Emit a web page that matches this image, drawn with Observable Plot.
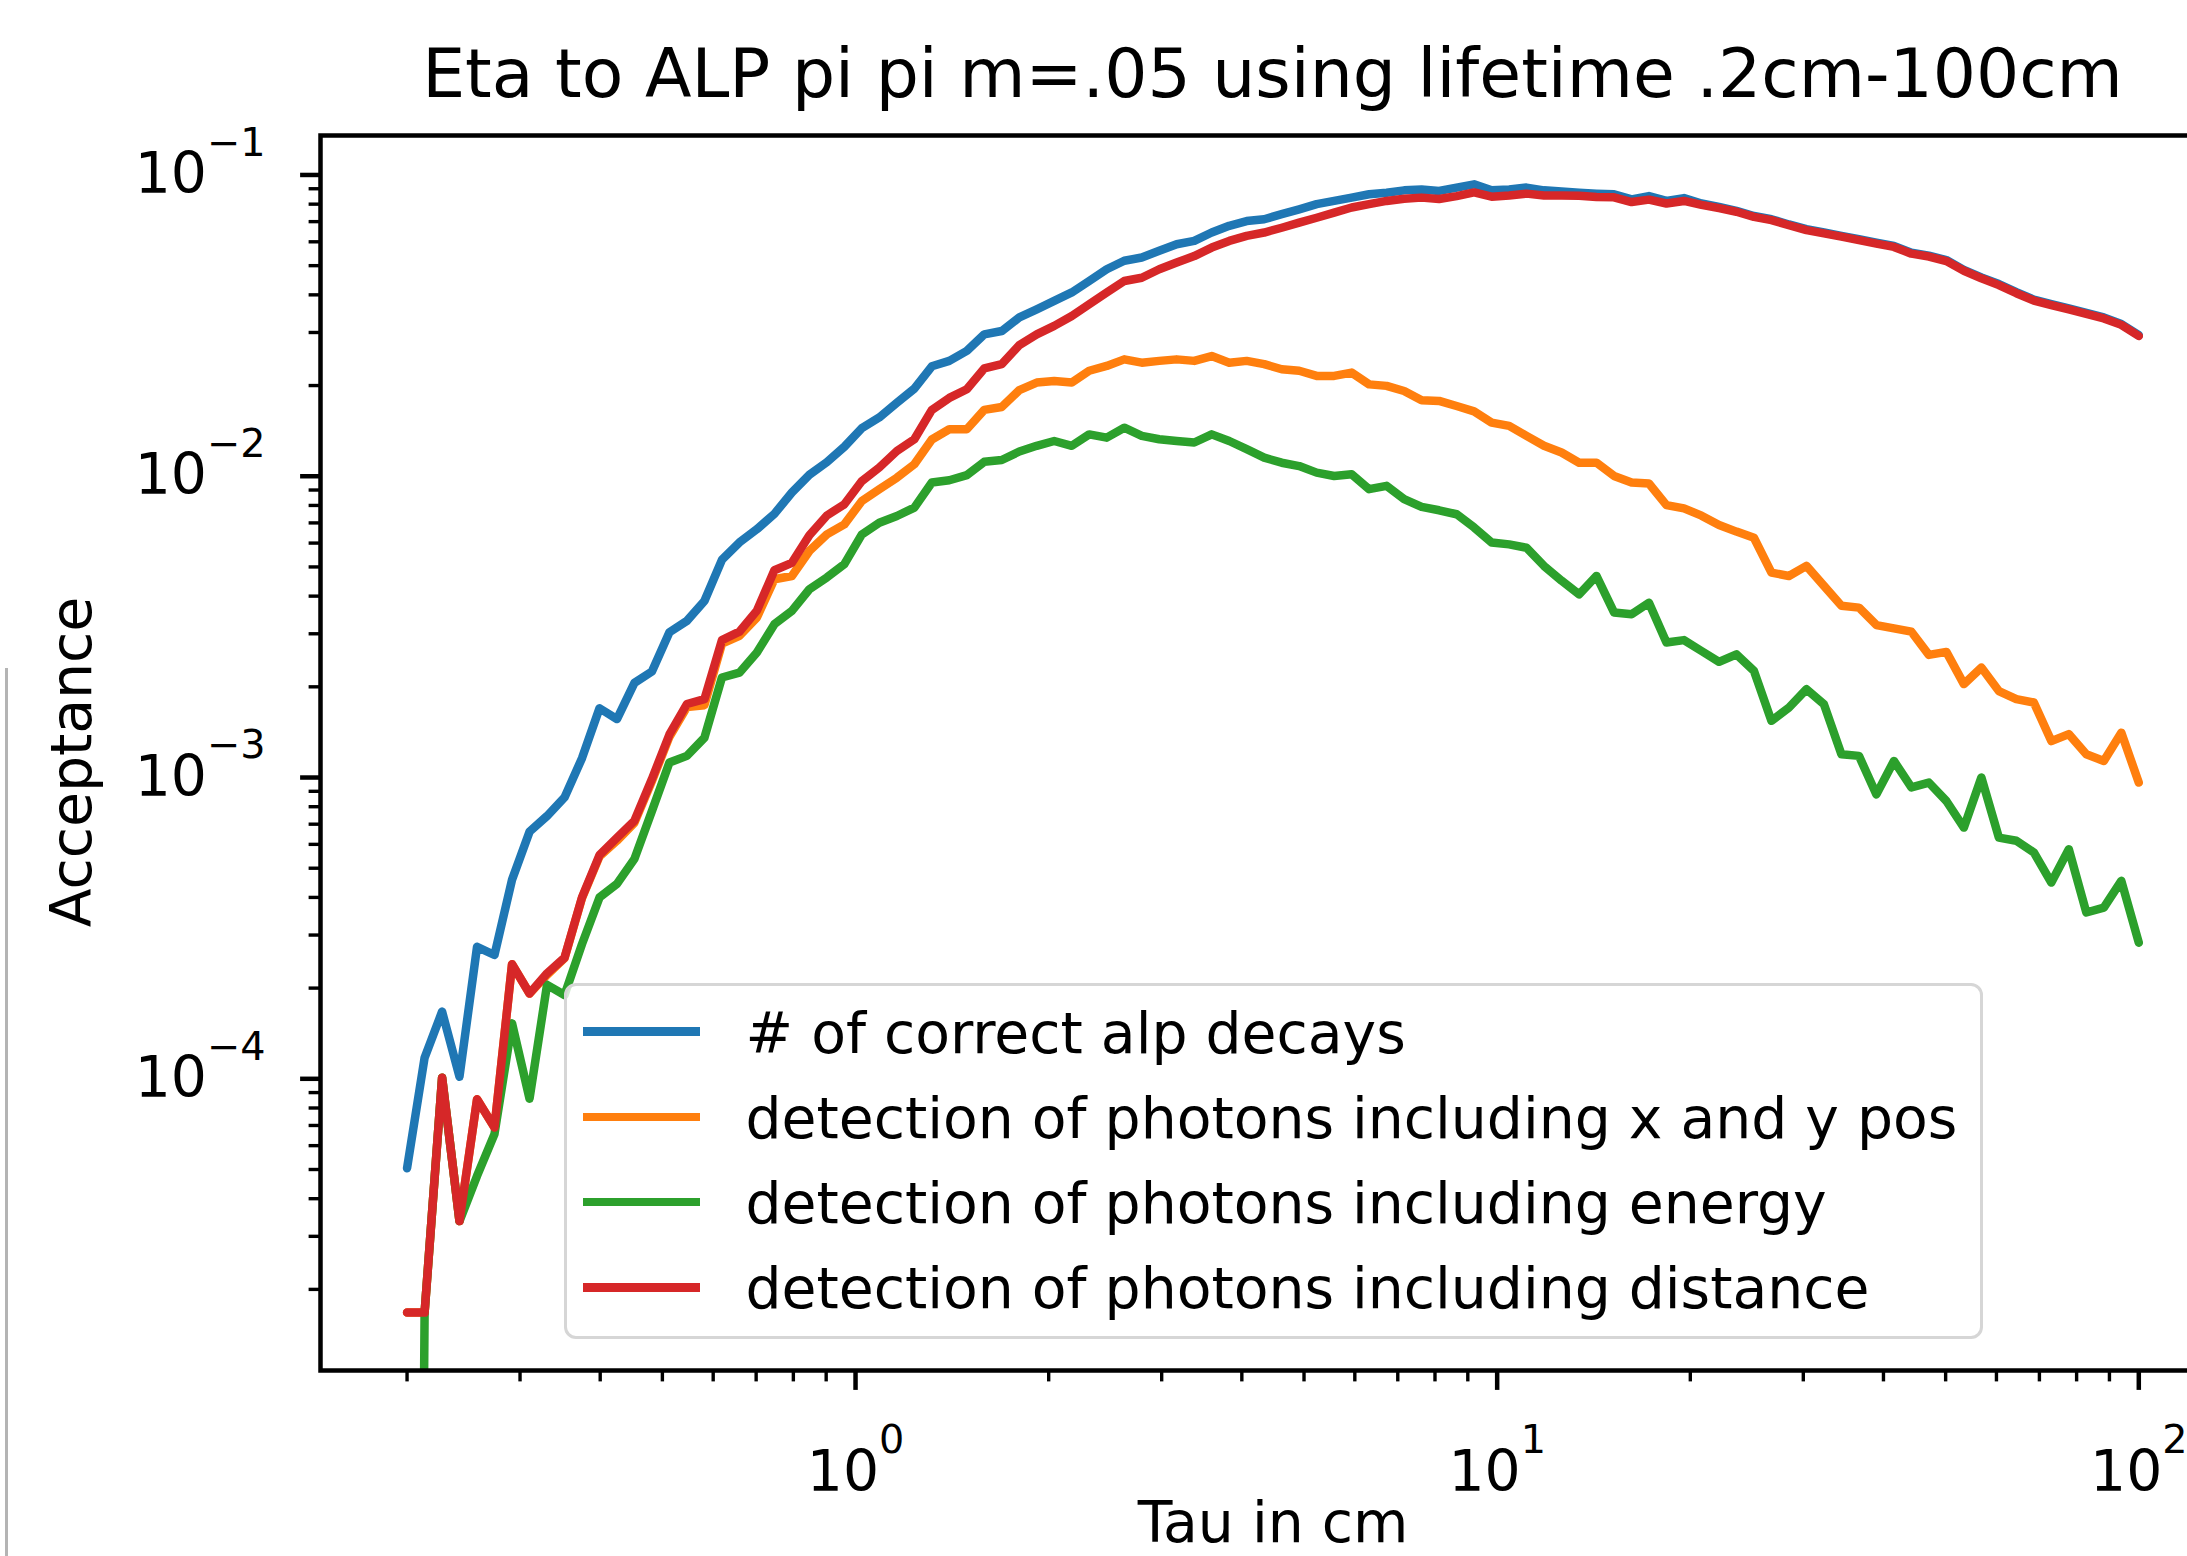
<!DOCTYPE html>
<html>
<head>
<meta charset="utf-8">
<script src="https://cdn.jsdelivr.net/npm/d3@7"></script>
<script src="https://cdn.jsdelivr.net/npm/@observablehq/plot@0.6"></script>
<style>
  html, body { margin: 0; padding: 0; background: #fff; overflow: hidden; }
  #wrap { position: relative; width: 2187px; height: 1556px; overflow: hidden; font-family: "DejaVu Sans", sans-serif; color: #000; }
  #wrap svg { position: absolute; left: 0; top: 0; max-width: none !important; }
  #title { position: absolute; left: 320px; width: 1905px; top: 40px; text-align: center; font-size: 68px; line-height: 68px; white-space: nowrap; z-index: 2; }
  #legend { position: absolute; left: 564px; top: 983px; width: 1419px; height: 356px; box-sizing: border-box;
            border: 3.5px solid #d6d6d6; border-radius: 12px; background: rgba(255,255,255,0.8); z-index: 3; }
  #legend .swatch { position: absolute; left: 15.5px; width: 117px; height: 8.5px; }
  #legend .lab { position: absolute; left: 178.5px; font-size: 56.8px; line-height: 56.8px; white-space: nowrap; color: #000; }
  #edge { position: absolute; left: 5px; top: 668px; width: 3px; bottom: 0; background: #b4b4b4; z-index: 2; }
</style>
</head>
<body>
<div id="wrap">
  <div id="title"></div>
  <div id="legend"></div>
  <div id="edge"></div>
</div>
<script>
// ---------------- data ----------------
const chartTitle = "Eta to ALP pi pi m=.05 using lifetime .2cm-100cm";
const xLabel = "Tau in cm";
const yLabel = "Acceptance";

const tau = [
  0.2, 0.213, 0.2268, 0.2414, 0.2571, 0.2737, 0.2915, 0.3104, 0.3305, 0.3519,
  0.3747, 0.399, 0.4248, 0.4523, 0.4816, 0.5128, 0.546, 0.5814, 0.6191, 0.6592,
  0.7019, 0.7474, 0.7958, 0.8474, 0.9023, 0.9607, 1.023, 1.089, 1.16, 1.235,
  1.315, 1.4, 1.491, 1.587, 1.69, 1.8, 1.916, 2.04, 2.173, 2.313,
  2.463, 2.623, 2.793, 2.974, 3.166, 3.372, 3.59, 3.823, 4.07, 4.334,
  4.615, 4.914, 5.232, 5.571, 5.932, 6.316, 6.725, 7.161, 7.625, 8.119,
  8.645, 9.205, 9.802, 10.44, 11.11, 11.83, 12.6, 13.42, 14.28, 15.21,
  16.2, 17.24, 18.36, 19.55, 20.82, 22.17, 23.6, 25.13, 26.76, 28.49,
  30.34, 32.31, 34.4, 36.63, 39.0, 41.53, 44.22, 47.08, 50.13, 53.38,
  56.84, 60.52, 64.44, 68.62, 73.06, 77.79, 82.83, 88.2, 93.92, 100
];

const correctAlpDecays = [
  5.05e-5, 1.175e-4, 1.671e-4, 1.016e-4, 2.742e-4, 2.576e-4, 4.58e-4, 6.61e-4, 7.45e-4, 8.59e-4,
  1.159e-3, 1.698e-3, 1.563e-3, 2.061e-3, 2.249e-3, 3.034e-3, 3.311e-3, 3.855e-3, 5.28e-3, 6.03e-3,
  6.67e-3, 7.50e-3, 8.83e-3, 1.012e-2, 1.114e-2, 1.253e-2, 1.445e-2, 1.567e-2, 1.754e-2, 1.954e-2,
  2.317e-2, 2.415e-2, 2.606e-2, 2.958e-2, 3.034e-2, 3.365e-2, 3.581e-2, 3.819e-2, 4.074e-2, 4.446e-2,
  4.864e-2, 5.19e-2, 5.32e-2, 5.60e-2, 5.89e-2, 6.04e-2, 6.44e-2, 6.78e-2, 7.03e-2, 7.13e-2,
  7.41e-2, 7.69e-2, 8.00e-2, 8.20e-2, 8.41e-2, 8.63e-2, 8.73e-2, 8.89e-2, 8.95e-2, 8.85e-2,
  9.08e-2, 9.31e-2, 8.89e-2, 8.95e-2, 9.08e-2, 8.89e-2, 8.81e-2, 8.73e-2, 8.67e-2, 8.63e-2,
  8.30e-2, 8.51e-2, 8.20e-2, 8.38e-2, 8.04e-2, 7.83e-2, 7.60e-2, 7.31e-2, 7.13e-2, 6.85e-2,
  6.61e-2, 6.44e-2, 6.28e-2, 6.12e-2, 5.96e-2, 5.81e-2, 5.52e-2, 5.40e-2, 5.22e-2, 4.84e-2,
  4.57e-2, 4.345e-2, 4.083e-2, 3.855e-2, 3.724e-2, 3.606e-2, 3.483e-2, 3.365e-2, 3.199e-2, 2.94e-2
];

const detXYPos = [
  1.675e-5, 1.675e-5, 1.009e-4, 3.37e-5, 8.55e-5, 6.89e-5, 2.399e-4, 1.919e-4, 2.213e-4, 2.512e-4,
  3.981e-4, 5.47e-4, 6.17e-4, 7.08e-4, 9.73e-4, 1.365e-3, 1.714e-3, 1.738e-3, 2.780e-3, 2.951e-3,
  3.396e-3, 4.550e-3, 4.667e-3, 5.65e-3, 6.41e-3, 6.92e-3, 8.28e-3, 9.06e-3, 9.89e-3, 1.096e-2,
  1.324e-2, 1.432e-2, 1.432e-2, 1.660e-2, 1.698e-2, 1.932e-2, 2.046e-2, 2.070e-2, 2.046e-2, 2.239e-2,
  2.323e-2, 2.443e-2, 2.382e-2, 2.415e-2, 2.443e-2, 2.415e-2, 2.506e-2, 2.382e-2, 2.415e-2, 2.355e-2,
  2.265e-2, 2.239e-2, 2.153e-2, 2.153e-2, 2.208e-2, 2.018e-2, 1.995e-2, 1.919e-2, 1.786e-2, 1.778e-2,
  1.710e-2, 1.641e-2, 1.507e-2, 1.469e-2, 1.361e-2, 1.262e-2, 1.199e-2, 1.109e-2, 1.109e-2, 1.002e-2,
  9.53e-3, 9.46e-3, 8.02e-3, 7.82e-3, 7.40e-3, 6.89e-3, 6.55e-3, 6.25e-3, 4.786e-3, 4.667e-3,
  5.04e-3, 4.325e-3, 3.715e-3, 3.664e-3, 3.206e-3, 3.126e-3, 3.048e-3, 2.553e-3, 2.612e-3, 2.042e-3,
  2.317e-3, 1.936e-3, 1.820e-3, 1.774e-3, 1.321e-3, 1.393e-3, 1.194e-3, 1.135e-3, 1.409e-3, 9.62e-4
];

const detEnergy = [
  0, 1.675e-5, 1.009e-4, 3.37e-5, 4.76e-5, 6.55e-5, 1.528e-4, 8.59e-5, 2.051e-4, 1.897e-4,
  2.799e-4, 4.00e-4, 4.436e-4, 5.37e-4, 7.74e-4, 1.122e-3, 1.180e-3, 1.355e-3, 2.148e-3, 2.228e-3,
  2.600e-3, 3.228e-3, 3.573e-3, 4.217e-3, 4.613e-3, 5.11e-3, 6.41e-3, 7.01e-3, 7.38e-3, 7.87e-3,
  9.53e-3, 9.70e-3, 1.009e-2, 1.117e-2, 1.132e-2, 1.208e-2, 1.262e-2, 1.309e-2, 1.262e-2, 1.377e-2,
  1.343e-2, 1.449e-2, 1.361e-2, 1.327e-2, 1.309e-2, 1.294e-2, 1.377e-2, 1.309e-2, 1.230e-2, 1.153e-2,
  1.109e-2, 1.081e-2, 1.028e-2, 1.002e-2, 1.016e-2, 9.06e-3, 9.29e-3, 8.39e-3, 7.91e-3, 7.71e-3,
  7.48e-3, 6.76e-3, 6.03e-3, 5.94e-3, 5.79e-3, 5.04e-3, 4.50e-3, 4.055e-3, 4.667e-3, 3.532e-3,
  3.483e-3, 3.802e-3, 2.805e-3, 2.858e-3, 2.630e-3, 2.421e-3, 2.564e-3, 2.259e-3, 1.542e-3, 1.706e-3,
  1.963e-3, 1.750e-3, 1.194e-3, 1.180e-3, 8.79e-4, 1.135e-3, 9.27e-4, 9.62e-4, 8.36e-4, 6.82e-4,
  1.000e-3, 6.32e-4, 6.17e-4, 5.64e-4, 4.48e-4, 5.78e-4, 3.565e-4, 3.698e-4, 4.54e-4, 2.831e-4
];

const detDistance = [
  1.675e-5, 1.675e-5, 1.009e-4, 3.37e-5, 8.55e-5, 6.89e-5, 2.399e-4, 1.919e-4, 2.239e-4, 2.523e-4,
  4.00e-4, 5.53e-4, 6.31e-4, 7.19e-4, 9.89e-4, 1.390e-3, 1.754e-3, 1.820e-3, 2.858e-3, 3.048e-3,
  3.581e-3, 4.875e-3, 5.16e-3, 6.37e-3, 7.41e-3, 8.07e-3, 9.64e-3, 1.069e-2, 1.213e-2, 1.327e-2,
  1.660e-2, 1.820e-2, 1.945e-2, 2.280e-2, 2.355e-2, 2.723e-2, 2.958e-2, 3.155e-2, 3.404e-2, 3.724e-2,
  4.074e-2, 4.446e-2, 4.56e-2, 4.864e-2, 5.12e-2, 5.38e-2, 5.74e-2, 6.04e-2, 6.28e-2, 6.44e-2,
  6.68e-2, 6.95e-2, 7.21e-2, 7.50e-2, 7.80e-2, 8.00e-2, 8.20e-2, 8.34e-2, 8.41e-2, 8.32e-2,
  8.51e-2, 8.75e-2, 8.47e-2, 8.55e-2, 8.67e-2, 8.55e-2, 8.55e-2, 8.53e-2, 8.45e-2, 8.43e-2,
  8.13e-2, 8.28e-2, 8.04e-2, 8.20e-2, 7.96e-2, 7.76e-2, 7.55e-2, 7.26e-2, 7.08e-2, 6.81e-2,
  6.56e-2, 6.40e-2, 6.24e-2, 6.08e-2, 5.92e-2, 5.77e-2, 5.48e-2, 5.36e-2, 5.18e-2, 4.81e-2,
  4.54e-2, 4.31e-2, 4.05e-2, 3.83e-2, 3.70e-2, 3.58e-2, 3.46e-2, 3.34e-2, 3.18e-2, 2.92e-2
];

const seriesNames = [
  "# of correct alp decays",
  "detection of photons including x and y pos",
  "detection of photons including energy",
  "detection of photons including distance"
];
const seriesColors = ["#1f77b4", "#ff7f0e", "#2ca02c", "#d62728"];
const seriesValues = [correctAlpDecays, detXYPos, detEnergy, detDistance];

const xMajorTicks = [1, 10, 100];
const yMajorTicks = [1e-4, 1e-3, 1e-2, 1e-1];
const xDomain = [0.1466, 136.5];
const yDomain = [1.076e-5, 0.1352];

// ---------------- build ----------------
const FS = 56.8;
const rows = [];
seriesValues.forEach((vals, s) => {
  vals.forEach((v, i) => {
    // like matplotlib's log "clip": non-positive values drop far below the axes
    rows.push({tau: tau[i], acc: v > 0 ? v : 1e-12, series: seriesNames[s]});
  });
});

function minorTicks(domain) {
  const out = [];
  const lo = Math.floor(Math.log10(domain[0])), hi = Math.ceil(Math.log10(domain[1]));
  for (let e = lo; e <= hi; e++) for (let m = 2; m <= 9; m++) {
    const v = m * Math.pow(10, e);
    if (v >= domain[0] && v <= domain[1]) out.push(v);
  }
  return out;
}
const powFmt = v => "10^" + String(Math.round(Math.log10(v))).replace("-", "\u2212");

const plot = Plot.plot({
  width: 2230,
  height: 1556,
  marginLeft: 320,
  marginRight: 5,
  marginTop: 135,
  marginBottom: 186,
  style: {fontFamily: "DejaVu Sans", fontSize: FS + "px", color: "#000", background: "transparent", maxWidth: "none"},
  x: {type: "log", domain: xDomain, label: null},
  y: {type: "log", domain: yDomain, label: null},
  color: {domain: seriesNames, range: seriesColors},
  marks: [
    Plot.line(rows, {x: "tau", y: "acc", z: "series", stroke: "series", strokeWidth: 8.5, clip: true}),
    Plot.frame({stroke: "#000", strokeWidth: 4.5}),
    Plot.axisX({ticks: minorTicks(xDomain), tickSize: 11.4, strokeWidth: 3.4, tickFormat: () => "", label: null}),
    Plot.axisX({ticks: xMajorTicks, tickSize: 19.9, tickPadding: 60, strokeWidth: 4.5, tickFormat: powFmt, fontSize: FS, label: null}),
    Plot.axisY({ticks: minorTicks(yDomain), tickSize: 11.4, strokeWidth: 3.4, tickFormat: () => "", label: null}),
    Plot.axisY({ticks: yMajorTicks, tickSize: 19.9, tickPadding: 35, strokeWidth: 4.5, tickFormat: powFmt, fontSize: FS, label: null}),
    Plot.text([xLabel], {frameAnchor: "bottom", textAnchor: "middle", lineAnchor: "middle", dy: 153, text: d => d, fontSize: FS, fill: "#000"}),
    Plot.text([yLabel], {frameAnchor: "left", textAnchor: "middle", lineAnchor: "middle", dx: -248, dy: 9, rotate: -90, text: d => d, fontSize: FS, fill: "#000"})
  ]
});

// mathtext-like powers of ten
d3.select(plot).selectAll("text").each(function () {
  const m = /^10\^(.+)$/.exec(this.textContent);
  if (!m) return;
  const t = d3.select(this);
  t.text(null);
  t.append("tspan").text("10");
  t.append("tspan").attr("font-size", FS * 0.7).attr("dy", -FS * 0.66).text(m[1]);
});

const wrap = document.getElementById("wrap");
wrap.insertBefore(plot, wrap.firstChild);

document.getElementById("title").textContent = chartTitle;

const legend = document.getElementById("legend");
seriesNames.forEach((name, i) => {
  const yc = 45.5 + 85.3 * i;
  const sw = document.createElement("div");
  sw.className = "swatch";
  sw.style.top = (yc - 4.25) + "px";
  sw.style.background = seriesColors[i];
  legend.appendChild(sw);
  const lab = document.createElement("div");
  lab.className = "lab";
  lab.style.top = (yc - 27) + "px";
  lab.textContent = name;
  legend.appendChild(lab);
});
</script>
</body>
</html>
